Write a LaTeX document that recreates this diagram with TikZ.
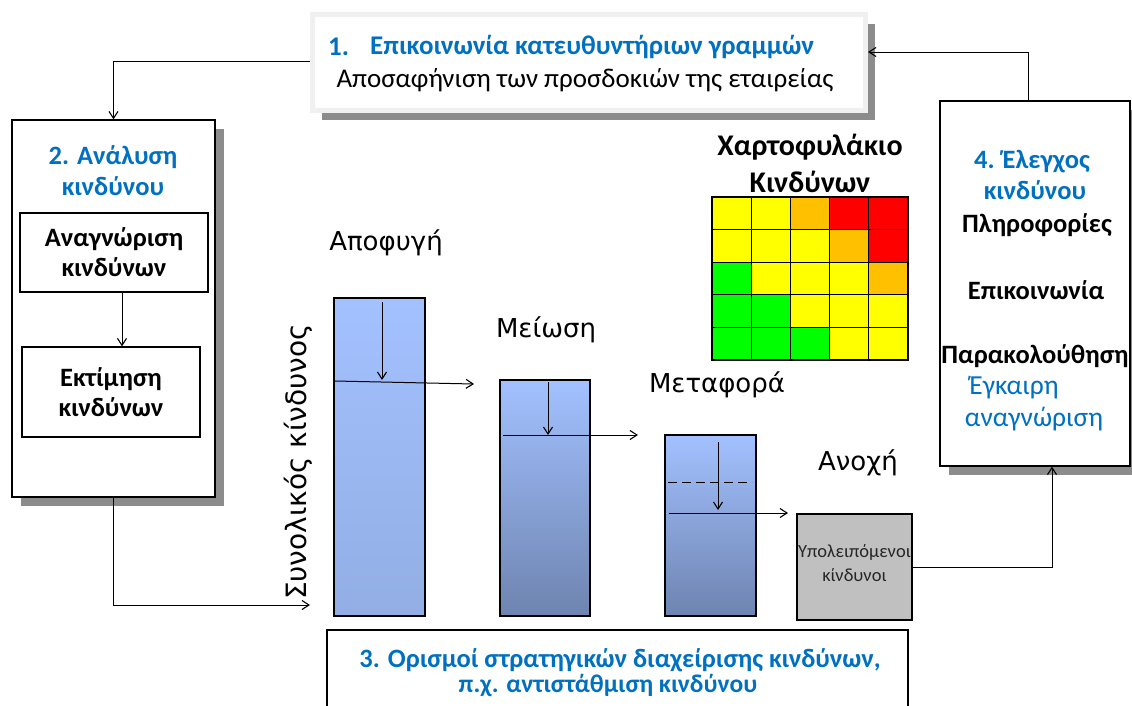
\documentclass[tikz,border=0pt]{standalone}
\usepackage{fontspec}
\setmainfont{Carlito}
\newfontfamily\dv{DejaVu Sans}
\usetikzlibrary{arrows.meta,shadows}
\definecolor{blueT}{HTML}{0070C0}
\definecolor{shadowc}{HTML}{8C8C8C}
\definecolor{frameL}{HTML}{F0F0F0}
\definecolor{grayB}{HTML}{C0C0C0}
\definecolor{barTop}{HTML}{A3C1FF}
\definecolor{barBotA}{HTML}{92AEE4}
\definecolor{barBotB}{HTML}{6E84B0}
\definecolor{cY}{HTML}{FFFF00}
\definecolor{cO}{HTML}{FFC000}
\definecolor{cR}{HTML}{FF0000}
\definecolor{cG}{HTML}{00FF00}
\begin{document}
\begin{tikzpicture}[x=1pt,y=-1pt,
  box/.style={draw=black,line width=1.2pt,fill=white,inner sep=0pt},
  shad/.style={drop shadow={shadow xshift=9pt,shadow yshift=-9pt,fill=shadowc,opacity=1}},
  conn/.style={line width=1pt,-{Straight Barb[length=7pt,width=9pt,line width=1.1pt]}},
  plain/.style={line width=1pt},
  txt/.style={inner sep=0pt,align=center},
  bt/.style={font=\bfseries\fontsize{26.5}{31}\selectfont,text=blueT},
  kt/.style={font=\bfseries\fontsize{26.5}{30}\selectfont,text=black},
  lab/.style={inner sep=0pt,font=\dv\fontsize{26}{30}\selectfont},
  bar/.style={draw=black,line width=1.2pt,inner sep=0pt},
]
\useasboundingbox (0,0) rectangle (1132,705);

% top box
\node[shad,draw=frameL,line width=5pt,fill=white,minimum width=553pt,minimum height=96pt] (top) at (589,62.5) {};
\node[txt,bt,anchor=west,font=\bfseries\fontsize{27}{31}\selectfont] (t1n) at (328,47) {1.};
\node[txt,bt,anchor=west,font=\bfseries\fontsize{27}{31}\selectfont] (t1) at (370,47) {Επικοινωνία κατευθυντήριων γραμμών};
\node[txt,font=\fontsize{27}{31}\selectfont] (t2) at (585,80) {Αποσαφήνιση των προσδοκιών της εταιρείας};

% left box
\node[box,shad,minimum width=203pt,minimum height=377pt] (left) at (113.5,308.5) {};
\node[txt,bt] (lt) at (113,170.5) {2. Ανάλυση\\κινδύνου};
\node[box,kt,align=center,minimum width=188pt,minimum height=79pt] (b1) at (114,252.5) {Αναγνώριση\\κινδύνων};
\node[box,kt,align=center,minimum width=178pt,minimum height=90pt] (b2) at (111,392) {Εκτίμηση\\κινδύνων};
\draw[conn] (b1.south -| 122,0) -- (b2.north -| 122,0);

% right box
\node[box,shad,minimum width=190pt,minimum height=365pt] (right) at (1035,283.5) {};
\node[txt,bt] (r1) at (1032,162) {4. Έλεγχος};
\node[txt,bt] (r2) at (1035,190) {κινδύνου};
\node[txt,kt] (r3) at (1037,225) {Πληροφορίες};
\node[txt,kt] (r4) at (1036,290) {Επικοινωνία};
\node[txt,kt] (r5) at (1035,356) {Παρακολούθηση};
\node[txt,text=blueT,font=\fontsize{27.5}{31}\selectfont] (r6) at (1014,388) {Έγκαιρη};
\node[txt,text=blueT,font=\fontsize{27.5}{31}\selectfont] (r7) at (1034,419) {αναγνώριση};

% bottom box
\node[box,minimum width=581pt,minimum height=90pt] (bot) at (617.5,675) {};
\node[txt,bt] (bt1) at (620,660) {3. Ορισμοί στρατηγικών διαχείρισης κινδύνων,};
\node[txt,bt,font=\bfseries\fontsize{25.5}{28}\selectfont] (bt2) at (608,686) {π.χ. αντιστάθμιση κινδύνου};

% grid
\node[txt,font=\bfseries\fontsize{30}{37}\selectfont] (gt) at (810,163.5) {Χαρτοφυλάκιο\\Κινδύνων};
\foreach \row [count=\r from 0] in {{Y,Y,O,R,R},{Y,Y,Y,O,R},{G,Y,Y,Y,O},{G,G,Y,Y,Y},{G,G,G,Y,Y}} {
  \foreach \c [count=\k from 0] in \row {
    \path[draw=black,line width=1.2pt,fill=c\c] (712+\k*39.2,197+\r*32.6) rectangle ++(39.2,32.6);
  }
}

% bars
\node[bar,top color=barTop,bottom color=barBotA,minimum width=91pt,minimum height=318pt] (bar1) at (379.5,457) {};
\node[bar,top color=barTop,bottom color=barBotB,minimum width=90pt,minimum height=236pt] (bar2) at (545,498) {};
\node[bar,top color=barTop,bottom color=barBotB,minimum width=91pt,minimum height=181pt] (bar3) at (710.5,525.5) {};
\node[draw=black,line width=1.2pt,fill=grayB,minimum width=115pt,minimum height=106pt,inner sep=0pt] (gray) at (854.5,567) {};
\node[txt,font=\fontsize{18.5}{24}\selectfont,text=black!85] (gtx) at (854.5,563) {Υπολειπόμενοι\\κίνδυνοι};

\node[lab] (l1) at (386,243) {Αποφυγή};
\node[lab] (l2) at (546,330) {Μείωση};
\node[lab] (l3) at (717,385) {Μεταφορά};
\node[lab] (l4) at (858,463) {Ανοχή};
\node[lab,rotate=90,font=\dv\fontsize{28}{32}\selectfont] (tot) at (298,462) {Συνολικός κίνδυνος};

\coordinate (a1s) at (382,302); \coordinate (a1e) at (382,380);
\coordinate (h1s) at (335,381); \coordinate (h1e) at (474,384);
\coordinate (a2s) at (548,382); \coordinate (a2e) at (548,435);
\coordinate (h2s) at (503,435); \coordinate (h2e) at (638,435);
\coordinate (a3s) at (718,442); \coordinate (a3e) at (718,510);
\coordinate (h3s) at (669,513); \coordinate (h3e) at (788,513);
\coordinate (d3s) at (668,482); \coordinate (d3e) at (752,482);
\draw[conn] (a1s) -- (a1e);
\draw[conn] (h1s) -- (h1e);
\draw[conn] (a2s) -- (a2e);
\draw[conn] (h2s) -- (h2e);
\draw[conn] (a3s) -- (a3e);
\draw[conn] (h3s) -- (h3e);
\draw[plain,dash pattern=on 9pt off 5pt] (d3s) -- (d3e);

% connectors
\coordinate (totin) at (310,605);
\draw[conn] ([xshift=-7pt]right.north) |- (top.east |- 0,52);
\draw[conn] (top.west |- 0,61) -| (left.north);
\draw[conn] (left.south) |- (totin);
\draw[conn] (gray.east) -| (right.south -| 1052,0);
\end{tikzpicture}
\end{document}
